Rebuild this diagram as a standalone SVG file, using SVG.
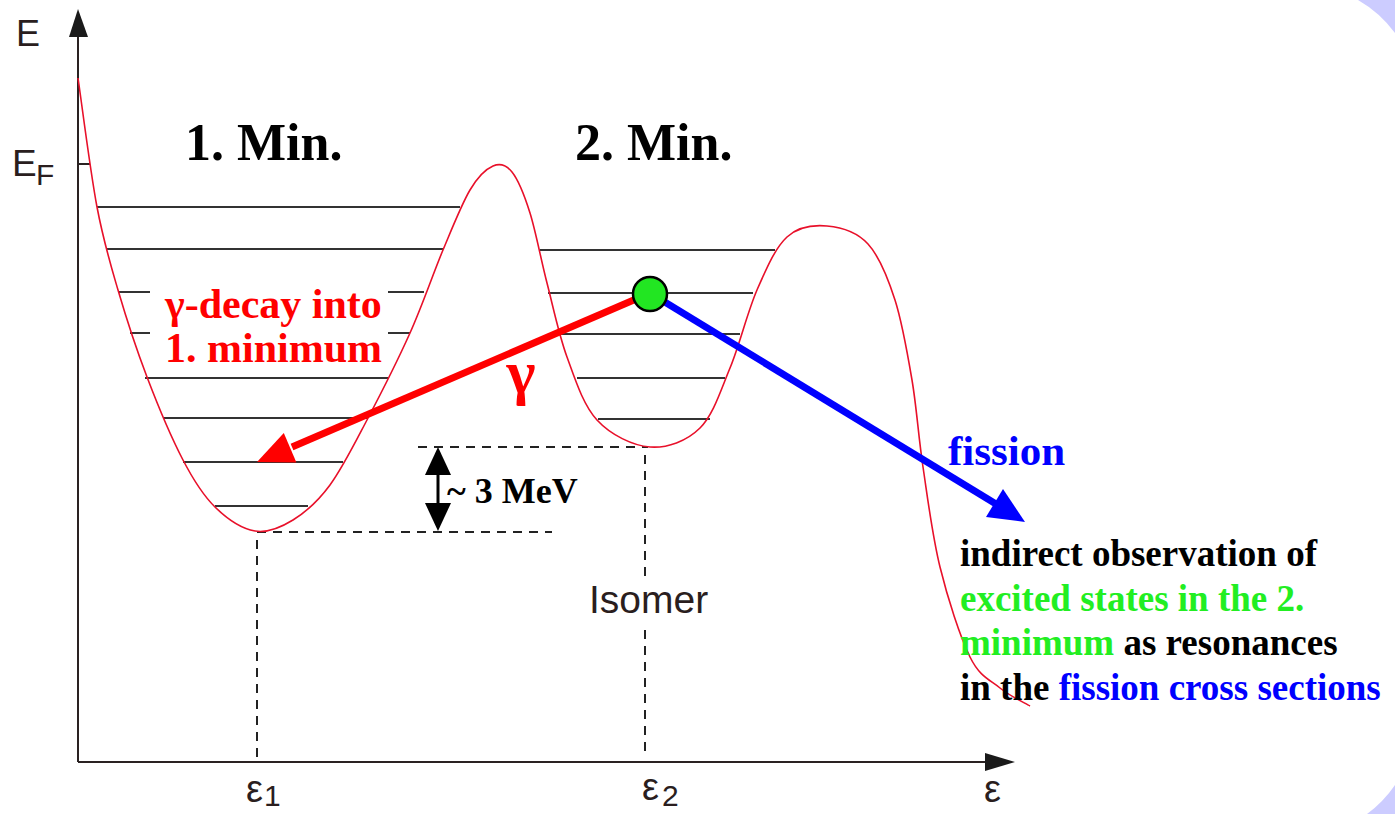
<svg xmlns="http://www.w3.org/2000/svg" width="1395" height="814" viewBox="0 0 1395 814">
<style>
.ax{stroke:#2a2222;stroke-width:2;fill:none}
.lv{stroke:#333;stroke-width:2}
.dsh{stroke:#222;stroke-width:2;stroke-dasharray:9,7;fill:none}
.sans{font-family:"Liberation Sans",Arial,sans-serif;fill:#2a1e1e}
.serif{font-family:"Liberation Serif","Times New Roman",serif;font-weight:bold}
</style>
<rect width="1395" height="814" fill="#ffffff"/>
<g id="corners" fill="#ccccff">
<path d="M1358,0 H1395 V33 A120,120 0 0 0 1358,0 Z"/>
<path d="M1395,785 V814 H1367 A120,120 0 0 0 1395,785 Z"/>
</g>
<g id="axes">
<line class="ax" x1="78" y1="762" x2="78" y2="34"/>
<polygon points="78,9 69,37 88,37" fill="#1a1a1a"/>
<line class="ax" x1="78" y1="762" x2="988" y2="762"/>
<polygon points="1015,762 985,753 985,771" fill="#1a1a1a"/>
<line class="ax" x1="78" y1="164" x2="90" y2="164"/>
<text class="sans" x="16" y="46" font-size="36">E</text>
<text class="sans" x="12" y="176" font-size="37">E</text>
<text class="sans" x="36" y="185" font-size="30">F</text>
<text class="sans" x="246" y="802" font-size="38">ε</text>
<text class="sans" x="264" y="806" font-size="30">1</text>
<text class="sans" x="642" y="800" font-size="38">ε</text>
<text class="sans" x="662" y="806" font-size="30">2</text>
<text class="sans" x="984" y="802" font-size="38">ε</text>
</g>
<g id="levels">
<line class="lv" x1="97" y1="207" x2="460" y2="207"/>
<line class="lv" x1="107" y1="249" x2="443" y2="249"/>
<line class="lv" x1="540" y1="250" x2="775" y2="250"/>
<line class="lv" x1="118" y1="292" x2="150" y2="292"/>
<line class="lv" x1="388" y1="292" x2="424" y2="292"/>
<line class="lv" x1="548" y1="293" x2="753" y2="293"/>
<line class="lv" x1="130" y1="333" x2="150" y2="333"/>
<line class="lv" x1="388" y1="333" x2="410" y2="333"/>
<line class="lv" x1="560" y1="334" x2="740" y2="334"/>
<line class="lv" x1="145" y1="378" x2="388" y2="378"/>
<line class="lv" x1="577" y1="378" x2="725" y2="378"/>
<line class="lv" x1="163" y1="418" x2="367" y2="418"/>
<line class="lv" x1="598" y1="419" x2="710" y2="419"/>
<line class="lv" x1="183" y1="462" x2="343" y2="462"/>
<line class="lv" x1="215" y1="506" x2="308" y2="506"/>
</g>
<g id="dashed">
<line class="dsh" x1="257" y1="532" x2="552" y2="532"/>
<line class="dsh" x1="418" y1="447" x2="648" y2="447"/>
<line class="dsh" x1="257" y1="540" x2="257" y2="760"/>
<line class="dsh" x1="645" y1="455" x2="645" y2="578"/>
<line class="dsh" x1="645" y1="630" x2="645" y2="758"/>
</g>
<g id="curve">
<path fill="none" stroke="#e8102a" stroke-width="1.6" d="M78,78 C81.2,99.5 90.3,171.7 97,207 C103.7,242.3 109.7,261.7 118,290 C126.3,318.3 136.2,348.7 147,377 C157.8,405.3 171.7,438.3 183,460 C194.3,481.7 203,495.2 215,507 C227,518.8 242,528.8 255,531 C268,533.2 280.5,527.7 293,520 C305.5,512.3 317.7,501.7 330,485 C342.3,468.3 353.7,445.3 367,420 C380.3,394.7 397.3,361.3 410,333 C422.7,304.7 433,273.8 443,250 C453,226.2 461.7,204 470,190 C478.3,176 486,169 493,166 C500,163 505.8,164.2 512,172 C518.2,179.8 524.2,194.5 530,213 C535.8,231.5 540.8,259 547,283 C553.2,307 558.7,334.2 567,357 C575.3,379.8 583.2,405 597,420 C610.8,435 632.8,445.7 650,447 C667.2,448.3 686.7,441.2 700,428 C713.3,414.8 720.5,391 730,368 C739.5,345 747.5,311.8 757,290 C766.5,268.2 775.3,247.7 787,237 C798.7,226.3 813.5,224.8 827,226 C840.5,227.2 856.7,231.7 868,244 C879.3,256.3 887.7,277.3 895,300 C902.3,322.7 907.3,352.2 912,380 C916.7,407.8 918.3,435.8 923,467 C927.7,498.2 932.2,535.3 940,567 C947.8,598.7 960,636.8 970,657 C980,677.2 990,679.8 1000,688 C1010,696.2 1025,703 1030,706"/>
</g>
<g id="connectors">
<line x1="650" y1="293" x2="292" y2="447" stroke="#ff0000" stroke-width="7"/>
<polygon points="257,462 296.4,462.5 283.8,433.1" fill="#ff0000"/>
<line x1="650" y1="293" x2="996" y2="504" stroke="#0000ff" stroke-width="7"/>
<polygon points="1025,522 986,517 1003,489" fill="#0000ff"/>
<line x1="438" y1="470" x2="438" y2="508" stroke="#000" stroke-width="3"/>
<polygon points="438,447 425,475 451,475" fill="#000"/>
<polygon points="438,531 425,503 451,503" fill="#000"/>
</g>
<g id="state">
<circle cx="650" cy="294" r="17" fill="#22e622" stroke="#000" stroke-width="2.5"/>
</g>
<g id="labels">
<text class="serif" x="185" y="160" font-size="52" fill="#000">1. Min.</text>
<text class="serif" x="575" y="160" font-size="52" fill="#000">2. Min.</text>
<text class="serif" x="165" y="318" font-size="42" fill="#ff0000">γ-decay into</text>
<text class="serif" x="165" y="362" font-size="42" fill="#ff0000">1. minimum</text>
<text class="serif" x="521" y="393" font-size="62" fill="#ff0000" text-anchor="middle">γ</text>
<text class="serif" x="447" y="503" font-size="36" fill="#000">~ 3 MeV</text>
<text class="sans" x="589" y="613" font-size="39">Isomer</text>
<text class="serif" x="948" y="465" font-size="43" fill="#0000ff">fission</text>
<text class="serif" x="960" y="566" font-size="37" fill="#000">indirect observation of</text>
<text class="serif" x="960" y="611" font-size="37" fill="#22ee22">excited states in the 2.</text>
<text class="serif" x="960" y="655" font-size="37" fill="#000"><tspan fill="#22ee22">minimum</tspan> as resonances</text>
<text class="serif" x="960" y="700" font-size="37" fill="#000">in the <tspan fill="#0000ff">fission cross sections</tspan></text>
</g>
</svg>
